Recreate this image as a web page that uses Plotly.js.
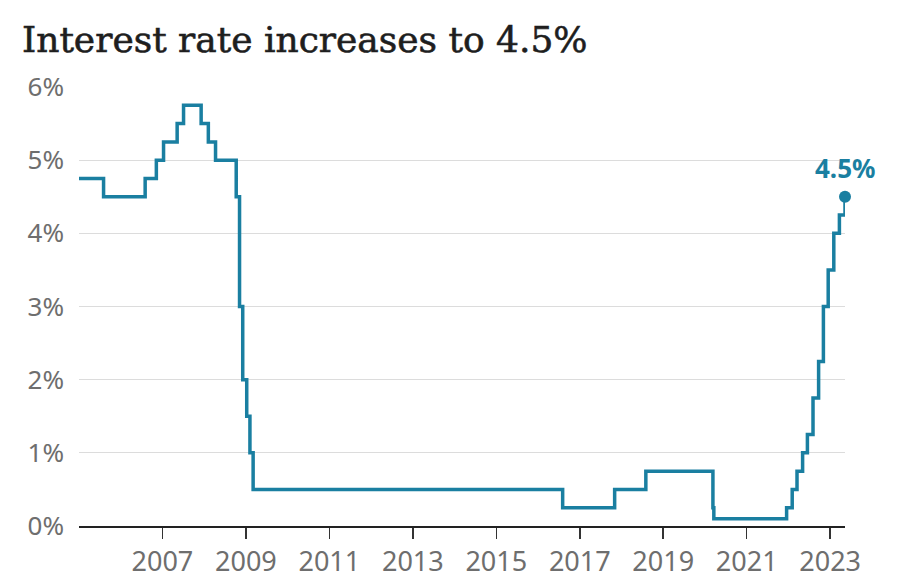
<!DOCTYPE html>
<html>
<head>
<meta charset="utf-8">
<script src="https://cdn.plot.ly/plotly-3.0.1.min.js"></script>
<style>
  html, body { margin: 0; padding: 0; background: #fff; }
  #chart { width: 903px; height: 583px; }
  #chart .gtitle { stroke: #1e1e1e; stroke-width: 0.6px; }
</style>
</head>
<body>
<div id="chart"></div>
<script>
// Bank Rate change dates and levels (%)
const dates = [
  '2005-01-01','2005-08-04','2006-08-03','2006-11-09','2007-01-11','2007-05-10',
  '2007-07-05','2007-12-06','2008-02-07','2008-04-10','2008-10-08','2008-11-06',
  '2008-12-04','2009-01-08','2009-02-05','2009-03-05','2016-08-04','2017-11-02',
  '2018-08-02','2020-03-11','2020-03-19','2021-12-16','2022-02-03','2022-03-17',
  '2022-05-05','2022-06-16','2022-08-04','2022-09-22','2022-11-03','2022-12-15',
  '2023-02-02','2023-03-23','2023-05-11'
];
const rates = [
  4.75, 4.5, 4.75, 5.0, 5.25, 5.5,
  5.75, 5.5, 5.25, 5.0, 4.5, 3.0,
  2.0, 1.5, 1.0, 0.5, 0.25, 0.5,
  0.75, 0.25, 0.1, 0.25, 0.5, 0.75,
  1.0, 1.25, 1.75, 2.25, 3.0, 3.5,
  4.0, 4.25, 4.5
];
const xTickYears = ['2007','2009','2011','2013','2015','2017','2019','2021','2023'];
const yTicks = [0, 1, 2, 3, 4, 5, 6];
const yTickText = ['0%','1%','2%','3%','4%','5%','6%'];
const titleText = 'Interest rate increases to 4.5%';
const lastLabel = '4.5%';

const teal = '#1a7fa1';
const lastDate = dates[dates.length - 1];
const lastRate = rates[rates.length - 1];

const traces = [
  {
    x: dates, y: rates, type: 'scatter', mode: 'lines',
    line: { shape: 'hv', color: teal, width: 3.5 },
    hoverinfo: 'skip'
  },
  {
    x: [lastDate], y: [lastRate], type: 'scatter', mode: 'markers',
    marker: { color: teal, size: 12 },
    cliponaxis: false, hoverinfo: 'skip'
  }
];

const layout = {
  width: 903, height: 583,
  margin: { l: 79, r: 58, t: 87, b: 57 },
  paper_bgcolor: '#fff', plot_bgcolor: '#fff',
  showlegend: false,
  font: { family: '"Noto Sans", "Open Sans", sans-serif', color: '#6e6e6e', size: 27 },
  title: {
    text: titleText,
    font: { family: '"DejaVu Serif", serif', size: 36, color: '#1e1e1e' },
    x: 22 / 903, xanchor: 'left', xref: 'container',
    y: 1 - 39 / 583, yanchor: 'middle', yref: 'container'
  },
  xaxis: {
    type: 'date',
    range: [dates[0], lastDate],
    tickvals: xTickYears.map(y => y + '-01-01'),
    ticktext: xTickYears,
    showgrid: false, zeroline: false,
    showline: true, linecolor: '#222222', linewidth: 2,
    ticks: 'outside', ticklen: 11, tickwidth: 1.5, tickcolor: '#333333',
    tickfont: { size: 27, color: '#6e6e6e' },
    fixedrange: true
  },
  yaxis: {
    range: [0, 6],
    tickvals: yTicks, ticktext: yTickText,
    showgrid: true, gridcolor: '#dcdcdc', gridwidth: 1,
    zeroline: false, showline: false,
    ticks: '', ticklabelstandoff: 14,
    tickfont: { size: 26, color: '#6e6e6e' },
    fixedrange: true
  },
  annotations: [{
    x: lastDate, y: lastRate, xref: 'x', yref: 'y',
    text: '<b>' + lastLabel + '</b>', showarrow: false,
    xanchor: 'center', yanchor: 'bottom', yshift: 9,
    font: { family: '"Noto Sans", sans-serif', size: 26, color: teal }
  }]
};

Plotly.newPlot('chart', traces, layout, { staticPlot: true, displayModeBar: false });
</script>
</body>
</html>
